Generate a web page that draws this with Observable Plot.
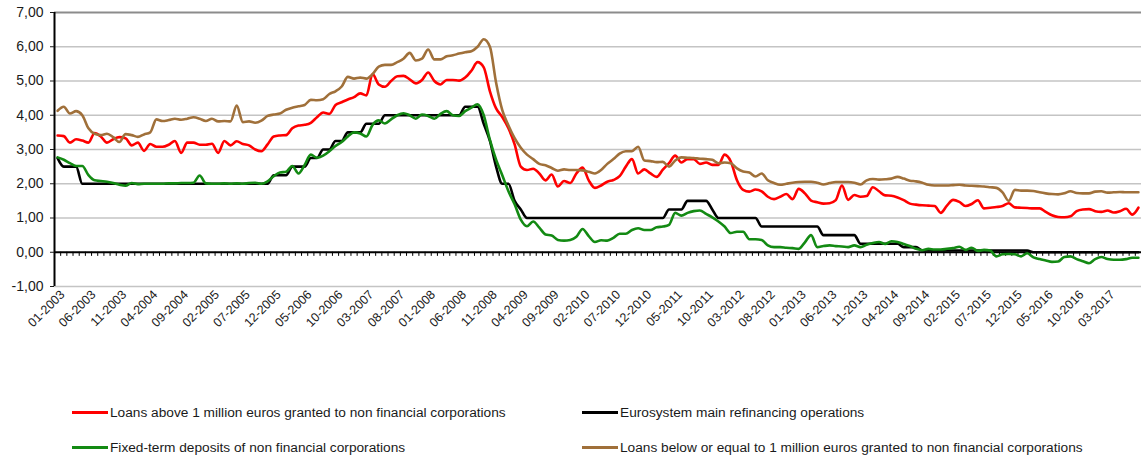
<!DOCTYPE html>
<html><head><meta charset="utf-8">
<script src="https://cdn.jsdelivr.net/npm/d3@7"></script>
<script src="https://cdn.jsdelivr.net/npm/@observablehq/plot@0.6"></script>
<style>
body{margin:0;background:#fff;font-family:"Liberation Sans",Arial,sans-serif;}
#wrap{position:relative;width:1141px;height:458px;overflow:hidden;}
.leg{position:absolute;height:16px;font-size:13.7px;color:#1a1a1a;display:flex;align-items:center;white-space:nowrap;}
.sw{width:36px;height:3px;margin-right:2px;}
</style></head><body>
<div id="wrap"><div id="chart"></div><div id="legend"></div></div>
<script>
// Monthly categories 01-2003 .. 08-2017
const months = [];
for (let y = 2003; y <= 2017; y++) for (let m = 1; m <= 12; m++) {
  if (y === 2017 && m > 8) break;
  months.push(String(m).padStart(2, "0") + "-" + y);
}
const xTickIdx = [0,5,10,15,20,25,30,35,40,45,50,55,60,65,70,75,80,85,90,95,100,105,110,115,120,125,130,135,140,145,150,155,160,165,170];
const yTicks = [-1,0,1,2,3,4,5,6,7];

const seriesNames = [
  "Loans above 1 million euros granted to non financial corporations",
  "Eurosystem main refinancing operations",
  "Fixed-term deposits of non financial corporations",
  "Loans below or equal to 1 million euros granted to non financial corporations"
];
const seriesColors = ["#ff0000", "#000000", "#138a13", "#a0703a"];

const loansAbove1M = [
 3.41,3.39,3.2,3.3,3.26,3.2,3.48,3.38,3.2,3.3,
 3.36,3.33,3.12,3.2,2.96,3.16,3.08,3.08,3.14,3.25,
 2.9,3.2,3.2,3.14,3.14,3.17,2.9,3.25,3.12,3.24,
 3.16,3.12,3.0,2.95,3.15,3.38,3.41,3.42,3.62,3.7,
 3.72,3.78,3.94,4.08,4.04,4.3,4.38,4.46,4.53,4.64,
 4.58,5.2,4.9,4.83,5.0,5.14,5.15,5.05,4.93,5.03,
 5.25,5.0,4.9,5.03,5.03,5.01,5.1,5.3,5.55,5.4,
 4.7,4.2,3.95,3.62,3.15,2.5,2.4,2.44,2.3,2.1,
 2.27,1.92,2.08,2.02,2.3,2.47,2.1,1.88,1.95,2.06,
 2.11,2.22,2.5,2.72,2.3,2.42,2.3,2.2,2.41,2.6,
 2.82,2.62,2.72,2.72,2.58,2.62,2.55,2.55,2.85,2.65,
 2.1,1.82,1.77,1.83,1.78,1.62,1.55,1.62,1.7,1.55,
 1.85,1.72,1.51,1.46,1.42,1.43,1.52,1.95,1.53,1.67,
 1.62,1.64,1.9,1.78,1.66,1.65,1.6,1.52,1.42,1.39,
 1.37,1.36,1.35,1.15,1.36,1.53,1.47,1.35,1.41,1.52,
 1.28,1.3,1.32,1.35,1.43,1.31,1.3,1.29,1.28,1.28,
 1.18,1.08,1.03,1.02,1.05,1.2,1.25,1.26,1.2,1.18,
 1.22,1.16,1.2,1.27,1.1,1.3
];
const mainRefinancing = [
 2.75,2.5,2.5,2.5,
 2,2,2,2,2,2,2,2,2,2,
 2,2,2,2,2,2,2,2,2,2,
 2,2,2,2,2,2,2,2,2,2,
 2,
 2.25,2.25,2.25,
 2.5,2.5,2.5,
 2.75,2.75,
 3,3,
 3.25,3.25,
 3.5,3.5,3.5,
 3.75,3.75,3.75,
 4,4,4,4,4,4,4,4,4,4,4,4,4,
 4.25,4.25,4.25,
 3.75,3.25,2.5,2,2,1.5,1.25,
 1,1,1,1,1,1,1,1,1,1,1,1,1,1,1,1,1,1,1,1,1,1,1,
 1.25,1.25,1.25,
 1.5,1.5,1.5,1.5,
 1.25,
 1,1,1,1,1,1,1,
 0.75,0.75,0.75,0.75,0.75,0.75,0.75,0.75,0.75,0.75,
 0.5,0.5,0.5,0.5,0.5,0.5,
 0.25,0.25,0.25,0.25,0.25,0.25,0.25,
 0.15,0.15,0.15,
 0.05,0.05,0.05,0.05,0.05,0.05,0.05,0.05,0.05,0.05,0.05,0.05,0.05,0.05,0.05,0.05,0.05,0.05,
 0,0,0,0,0,0,0,0,0,0,0,0,0,0,0,0,0,0
];
const fixedTermDeposits = [
 2.77,2.7,2.6,2.52,2.52,2.25,2.1,2.08,2.06,2.02,
 1.97,1.94,2.02,1.99,2.0,2.0,2.0,2.0,2.01,2.01,
 2.02,2.02,2.03,2.24,2.01,2.0,2.0,2.01,2.0,2.01,
 2.0,2.02,2.03,2.0,2.07,2.22,2.33,2.35,2.52,2.3,
 2.55,2.85,2.76,2.82,2.95,3.1,3.22,3.38,3.5,3.47,
 3.38,3.72,3.85,3.76,3.88,4.0,4.06,4.0,3.9,4.02,
 3.98,3.9,4.04,4.12,4.0,3.98,4.12,4.22,4.32,4.0,
 3.28,2.7,2.25,1.78,1.4,0.95,0.76,0.9,0.72,0.52,
 0.49,0.36,0.34,0.36,0.45,0.68,0.47,0.3,0.35,0.34,
 0.42,0.54,0.54,0.65,0.7,0.65,0.65,0.73,0.75,0.8,
 1.15,1.07,1.15,1.2,1.22,1.12,1.02,0.9,0.75,0.56,
 0.6,0.6,0.38,0.38,0.36,0.2,0.15,0.15,0.13,0.12,
 0.1,0.29,0.5,0.15,0.18,0.2,0.18,0.17,0.15,0.2,
 0.15,0.22,0.27,0.3,0.24,0.32,0.3,0.24,0.18,0.1,
 0.06,0.1,0.08,0.08,0.1,0.12,0.16,0.07,0.13,0.04,
 0.07,0.05,-0.12,-0.06,-0.05,-0.06,-0.12,-0.03,-0.15,-0.2,
 -0.24,-0.28,-0.27,-0.14,-0.12,-0.2,-0.26,-0.32,-0.2,-0.14,
 -0.2,-0.22,-0.22,-0.2,-0.16,-0.16
];
const loansBelow1M = [
 4.13,4.25,4.05,4.12,4.0,3.62,3.46,3.42,3.46,3.36,
 3.22,3.45,3.42,3.37,3.44,3.5,3.88,3.83,3.86,3.9,
 3.87,3.9,3.94,3.9,3.83,3.9,3.82,3.83,3.82,4.28,
 3.8,3.82,3.78,3.84,3.98,4.02,4.05,4.16,4.22,4.26,
 4.3,4.45,4.44,4.47,4.62,4.7,4.84,5.12,5.07,5.1,
 5.07,5.2,5.42,5.47,5.47,5.55,5.65,5.82,5.6,5.65,
 5.92,5.63,5.63,5.72,5.75,5.8,5.84,5.87,6.0,6.22,
 6.0,4.95,4.15,3.7,3.33,3.05,2.85,2.72,2.58,2.54,
 2.46,2.38,2.42,2.4,2.4,2.39,2.35,2.3,2.4,2.58,
 2.72,2.88,2.95,2.95,3.08,2.68,2.66,2.63,2.64,2.5,
 2.68,2.77,2.76,2.75,2.73,2.72,2.7,2.6,2.62,2.6,
 2.45,2.36,2.33,2.21,2.3,2.1,2.02,1.97,2.0,2.03,
 2.05,2.06,2.06,2.03,1.98,2.02,2.05,2.05,2.05,2.03,
 1.98,2.1,2.14,2.12,2.13,2.15,2.2,2.15,2.09,2.07,
 2.03,1.97,1.95,1.95,1.95,1.96,1.97,1.95,1.94,1.93,
 1.92,1.9,1.88,1.75,1.5,1.82,1.8,1.8,1.79,1.75,
 1.72,1.7,1.69,1.72,1.78,1.73,1.72,1.72,1.77,1.78,
 1.74,1.75,1.76,1.75,1.75,1.75
];

const seriesValues = [loansAbove1M, mainRefinancing, fixedTermDeposits, loansBelow1M];
const rows = [];
seriesValues.forEach((vals, s) => vals.forEach((v, i) => rows.push({i, v, s: seriesNames[s]})));
const drawOrder = [0, 1, 2, 3];

const fmt = d => d.toFixed(2).replace(".", ",");
const boundaries = months.slice(0, -1).map((_, i) => i + 0.5);

const chart = Plot.plot({
  width: 1141, height: 390,
  marginLeft: 54, marginRight: 0, marginTop: 12, marginBottom: 104,
  style: {fontFamily: '"Liberation Sans", Arial, sans-serif', color: "#1a1a1a", background: "#fff"},
  x: {type: "linear", domain: [-0.5, months.length - 0.5]},
  y: {domain: [-1, 7]},
  marks: [
    Plot.ruleY(yTicks.filter(d => d !== 0 && d !== 7), {stroke: "#c4c4c4", strokeWidth: 1.5}),
    Plot.ruleY([7], {stroke: "#8c8c8c", strokeWidth: 2}),
    Plot.ruleX(boundaries, {x: d => d, y1: 0, y2: -0.12, stroke: "#000", strokeWidth: 1}),
    Plot.ruleY([0], {stroke: "#000", strokeWidth: 2}),
    ...drawOrder.map(s => Plot.line(rows.filter(r => r.s === seriesNames[s]), {
      x: "i", y: "v", stroke: seriesColors[s], strokeWidth: 2.6, curve: "monotone-x"
    })),
    Plot.ruleX([-0.5], {y1: -1, y2: 7, stroke: "#000", strokeWidth: 2}),
    Plot.axisY({ticks: yTicks, tickFormat: fmt, tickSize: 4, tickPadding: 7, fontSize: 14, label: null}),
    Plot.axisX({ticks: xTickIdx, tickFormat: i => months[i], tickRotate: -45, tickSize: 0, tickPadding: 5, dx: 5, dy: 1, fontSize: 12.5, label: null})
  ]
});
document.getElementById("chart").appendChild(chart);

// Legend
const legendPos = [
  {left: 72, top: 404}, {left: 582, top: 404},
  {left: 72, top: 439}, {left: 582, top: 439}
];
const legend = document.getElementById("legend");
seriesNames.forEach((name, s) => {
  const d = document.createElement("div");
  d.className = "leg";
  d.style.left = legendPos[s].left + "px";
  d.style.top = legendPos[s].top + "px";
  const sw = document.createElement("span");
  sw.className = "sw";
  sw.style.background = seriesColors[s];
  const t = document.createElement("span");
  t.textContent = name;
  d.appendChild(sw); d.appendChild(t);
  legend.appendChild(d);
});
</script>
</body></html>
